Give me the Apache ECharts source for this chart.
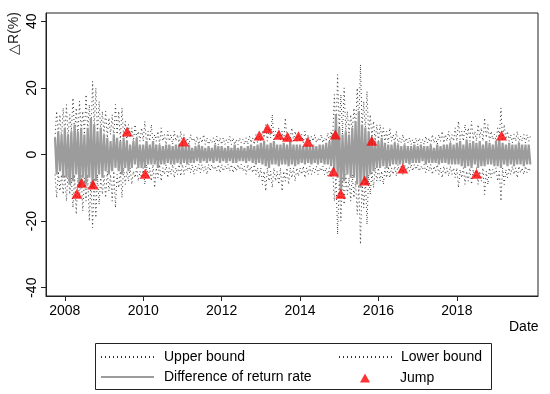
<!DOCTYPE html>
<html>
<head>
<meta charset="utf-8">
<script src="https://cdn.jsdelivr.net/npm/echarts@6/dist/echarts.min.js"></script>
<style>html,body{margin:0;padding:0;background:#fff;}#c{width:550px;height:394px;}</style>
</head>
<body>
<div id="c"></div>
<script>
// sampling: half-month steps starting at 2007.75
const startDate = 2007.75;
const stepYears = 1 / 24;

const diffValues = [
  5, -6, 7, -5, 6, -7,
  8, -7, 6, -9, 7, -8, 9, -6, 7, -10, 8, -7, 6, -9, 8, -7, 11, -10, 9, -8, 7, -6, 8, -7,
  6, -5, 5, -6, 4, -5, 6, -4, 5, -5, 4, -6, 5, -4, 4, -5, 3, -4, 4, -3, 5, -4, 3, -4,
  3, -4, 4, -3, 3, -3, 4, -3, 3, -4, 3, -3, 2.5, -3, 3, -2.5, 3, -3, 2.5, -3, 3, -2.5, 3, -3,
  3, -2.5, 2.5, -3, 3, -2.5, 2, -2.5, 2.5, -2, 3, -2.5, 2.5, -2, 2, -2.5, 2.5, -2, 2, -2.5, 3, -2, 2.5, -2.5,
  2.5, -2, 2, -2.5, 2.5, -2, 2, -2.5, 3, -2.5, 2, -2, 2.5, -2, 2, -2.5, 2.5, -2, 3, -2.5, 2.5, -3, 3, -2.5,
  3.5, -3, 4, -3.5, 3, -4, 3.5, -3, 4, -3, 3, -3.5, 3, -3, 3.5, -3, 3, -3.5, 4, -3, 3, -3.5, 3, -3,
  3, -2.5, 2.5, -3, 3, -2.5, 2.5, -3, 3, -2.5, 2.5, -3, 3, -2.5, 3, -3, 3.5, -3, 4, -3.5, 6, -5, 12, -7,
  8, -11, 6, -8, 7, -6, 6, -7, 8, -7, 10, -9, 13, -10, 9, -8, 8, -9, 7, -6, 5, -5, 4, -4,
  4, -4, 5, -3.5, 3.5, -4, 3, -3.5, 3, -3, 3.5, -3, 3, -3, 2.5, -3, 3, -2.5, 2.5, -3, 2.5, -2.5, 3, -2.5,
  2.5, -2.5, 3, -2, 2.5, -3, 2.5, -2.5, 3, -2.5, 2, -2.5, 3, -3, 2.5, -2.5, 3, -2.5, 3, -3, 3.5, -3, 3, -3,
  3.5, -3, 4, -3.5, 3, -4, 4.5, -3.5, 3.5, -4, 4, -3, 3.5, -4, 4, -3.5, 3, -3.5, 4, -3, 3.5, -3, 3, -3.5,
  4, -3.5, 4.5, -4, 3.5, -3, 3, -3.5, 3.5, -3, 3, -3.5, 3, -3, 3.5, -3, 3, -3.5, 3, -3, 3, -3
];

const upperValues = [
  5, 13, 6, 12, 5, 14,
  6, 15, 5, 12, 7, 17, 6, 14, 5, 16, 7, 13, 6, 18, 7, 15, 6, 22, 8, 20, 6, 16, 7, 13,
  6, 13, 5, 11, 6, 12, 5, 15, 6, 13, 4, 14, 5, 10, 4, 9, 5, 8, 4, 9, 5, 7, 4, 8,
  4, 10, 3, 7, 4, 9, 3, 6, 4, 7, 3, 8, 4, 6, 3, 7, 4, 6, 3, 7, 4, 6, 3, 7,
  3, 6, 3.5, 5, 3, 6, 4, 5, 3, 5.5, 3, 5, 3.5, 6, 3, 5, 3, 4.5, 3.5, 5, 3, 5.5, 3, 5,
  3, 5, 3, 4.5, 3.5, 5.5, 3, 5, 3, 4.5, 3, 5, 3.5, 4.5, 3, 5, 3, 5.5, 3.5, 5, 3, 6, 3.5, 5.5,
  4, 7, 5, 9, 4, 8, 5, 12, 4, 7, 5, 8, 4, 7, 4, 11, 4, 6, 5, 8, 4, 7, 4, 6,
  4, 6, 3.5, 7, 4, 6, 3.5, 5.5, 4, 6, 3.5, 5, 4, 6, 3.5, 5, 4, 6.5, 4, 7, 5, 18, 6, 24,
  7, 18, 6, 20, 7, 13, 6, 12, 7, 14, 8, 20, 9, 27, 8, 16, 7, 19, 6, 12, 5, 10, 4, 9,
  4, 9, 5, 8, 4, 7, 3.5, 8, 4, 6, 3.5, 7, 3, 5, 3.5, 6, 3, 5, 3.5, 5, 3, 4.5, 3, 5,
  3, 5, 3.5, 4.5, 3, 5.5, 3.5, 5, 3, 6, 3.5, 5, 3, 6, 4, 7, 3.5, 6, 4, 7, 3.5, 6, 4, 8,
  4, 10, 4.5, 7, 4, 9, 5, 8, 4, 10, 4.5, 7, 4, 9, 5, 8, 4, 11, 5, 9, 4, 7, 4.5, 6,
  4, 8, 5, 14, 4, 9, 4.5, 7, 4, 6, 3.5, 6, 4, 7, 3.5, 5.5, 4, 6, 3.5, 6, 4, 5.5
];

const lowerValues = [
  -6, -13, -5, -11, -6, -12,
  -6, -14, -5, -12, -7, -16, -6, -18, -7, -13, -6, -17, -7, -14, -6, -20, -8, -22, -7, -19, -6, -15, -7, -12,
  -6, -13, -5, -11, -6, -14, -5, -16, -6, -10, -5, -13, -4, -9, -5, -8, -4, -9, -5, -7, -4, -8, -5, -7,
  -4, -9, -3, -7, -4, -8, -3, -10, -4, -7, -3, -8, -4, -6, -3, -7, -4, -6, -3, -7, -4, -6, -3, -6.5,
  -3, -6, -3.5, -5, -3, -5.5, -3, -6, -3.5, -5, -3, -5.5, -3, -5, -3.5, -6, -3, -5, -3, -4.5, -3.5, -5, -3, -5.5,
  -3, -5, -3.5, -4.5, -3, -5, -3, -5.5, -3.5, -5, -3, -4.5, -3, -5, -3.5, -6, -3, -5, -3.5, -5.5, -3, -6, -4, -7,
  -4, -9, -5, -11, -4, -8, -5, -10, -4, -8, -5, -9, -4, -11, -5, -8, -4, -9, -4, -7, -4, -8, -4, -6.5,
  -4, -6, -3.5, -7, -4, -6, -3.5, -6, -4, -5.5, -3.5, -6, -4, -5, -3.5, -6, -4, -6.5, -4, -7, -5, -14, -7, -24,
  -8, -20, -7, -15, -6, -12, -7, -14, -6, -13, -8, -18, -9, -27, -8, -16, -7, -21, -6, -12, -5, -10, -4, -8,
  -4, -8, -5, -9, -4, -7, -3.5, -7, -4, -6, -3.5, -6.5, -3, -5.5, -3.5, -6, -3, -5, -3.5, -5, -3, -5, -3, -4.5,
  -3, -5, -3.5, -4.5, -3, -5.5, -3.5, -5, -3, -6, -3.5, -5, -3, -6, -4, -7, -3.5, -6, -4, -6.5, -3.5, -6, -4, -7,
  -4, -10, -4.5, -7, -4, -9, -5, -8, -4, -9, -4.5, -7, -4, -9, -5, -8, -4, -12, -5, -9, -4, -7, -4.5, -6,
  -4, -8, -5, -14, -4, -9, -4.5, -7, -4, -6, -3.5, -6, -4, -7, -3.5, -5.5, -4, -6, -3.5, -5.5, -4, -5
];

const jumpDates = [2008.31, 2008.43, 2008.72, 2009.59, 2010.05, 2011.03, 2012.96, 2013.17, 2013.46, 2013.68,
  2013.96, 2014.20, 2014.85, 2014.90, 2015.04, 2015.65, 2015.83, 2016.62, 2018.50, 2019.14];
const jumpValues = [-11.8, -8.5, -9.0, 6.9, -5.8, 3.9, 5.7, 7.9, 5.9, 5.3,
  5.5, 3.8, -5.1, 6.0, -11.8, -7.8, 4.1, -4.2, -5.8, 5.7];

const xTicks = [2008, 2010, 2012, 2014, 2016, 2018];
const yTicks = [-40, -20, 0, 20, 40];

const seriesNames = ['Upper bound', 'Lower bound', 'Difference of return rate', 'Jump'];

const toPairs = vals => vals.map((v, i) => [startDate + i * stepYears, v]);

const chart = echarts.init(document.getElementById('c'), null, { renderer: 'canvas' });
const font = 'Liberation Sans, Arial, sans-serif';
const dotted = { color: '#333', width: 1, type: [1, 3] };
const noSymbol = { opacity: 0 };

chart.setOption({
  animation: false,
  backgroundColor: '#fff',
  textStyle: { fontFamily: font },
  grid: { left: 46, top: 13, right: 12, bottom: 98, show: true, borderColor: '#222', borderWidth: 1, backgroundColor: 'transparent' },
  xAxis: {
    type: 'value', min: 2007.52, max: 2020.07,
    axisLine: { show: true, onZero: false, lineStyle: { color: '#222', width: 1 } },
    axisTick: { show: true, customValues: xTicks, length: 5, lineStyle: { color: '#222' } },
    axisLabel: { customValues: xTicks, fontSize: 14, color: '#000', margin: 8, fontFamily: font,
      formatter: v => String(Math.round(v)) },
    splitLine: { show: false }
  },
  yAxis: {
    type: 'value', min: -42.5, max: 42.5,
    axisLine: { show: true, onZero: false, lineStyle: { color: '#222', width: 1 } },
    axisTick: { show: true, customValues: yTicks, length: 5, lineStyle: { color: '#222' } },
    axisLabel: { customValues: yTicks, fontSize: 14, color: '#000', rotate: 90, margin: 7, fontFamily: font,
      formatter: v => String(Math.round(v)) },
    splitLine: { show: false }
  },
  legend: [
    { data: [
        { name: seriesNames[0], itemStyle: noSymbol },
        { name: seriesNames[2], itemStyle: noSymbol }
      ], orient: 'vertical', left: 100, top: 350, padding: 0,
      itemWidth: 53, itemHeight: 14, itemGap: 6,
      textStyle: { fontSize: 14, color: '#000', fontFamily: font, padding: [0, 0, 0, 5] } },
    { data: [{ name: seriesNames[1], itemStyle: noSymbol }], orient: 'vertical', left: 338, top: 350, padding: 0,
      itemWidth: 54, itemHeight: 14,
      textStyle: { fontSize: 14, color: '#000', fontFamily: font, padding: [0, 0, 0, 3] } },
    { data: [{ name: seriesNames[3], icon: 'triangle' }], left: 360, top: 371, padding: 0,
      itemWidth: 10, itemHeight: 9,
      textStyle: { fontSize: 14, color: '#000', fontFamily: font, padding: [0, 0, 0, 25] } }
  ],
  graphic: [
    { type: 'rect', shape: { x: 95.5, y: 343.5, width: 396, height: 46 },
      style: { fill: 'none', stroke: '#222', lineWidth: 1 }, silent: true },
    { type: 'text', x: 14.5, y: 33.5, rotation: Math.PI / 2,
      style: { text: '△R(%)', font: '14px ' + font, fill: '#222', textAlign: 'center', textVerticalAlign: 'middle' } },
    { type: 'text', x: 509, y: 327,
      style: { text: 'Date', font: '14px ' + font, fill: '#000', textAlign: 'left', textVerticalAlign: 'middle' } }
  ],
  series: [
    { name: seriesNames[0], type: 'line', data: toPairs(upperValues), symbol: 'none', showSymbol: false,
      lineStyle: dotted, itemStyle: { color: '#333' } },
    { name: seriesNames[1], type: 'line', data: toPairs(lowerValues), symbol: 'none', showSymbol: false,
      lineStyle: dotted, itemStyle: { color: '#333' } },
    { name: seriesNames[2], type: 'line', data: toPairs(diffValues), symbol: 'none', showSymbol: false,
      lineStyle: { color: '#9c9c9c', width: 2.2 }, itemStyle: { color: '#9c9c9c' } },
    { name: seriesNames[3], type: 'scatter', data: jumpDates.map((d, i) => [d, jumpValues[i]]),
      symbol: 'triangle', symbolSize: [11, 10], itemStyle: { color: '#ff0000' }, z: 5 }
  ]
});
</script>
</body>
</html>
